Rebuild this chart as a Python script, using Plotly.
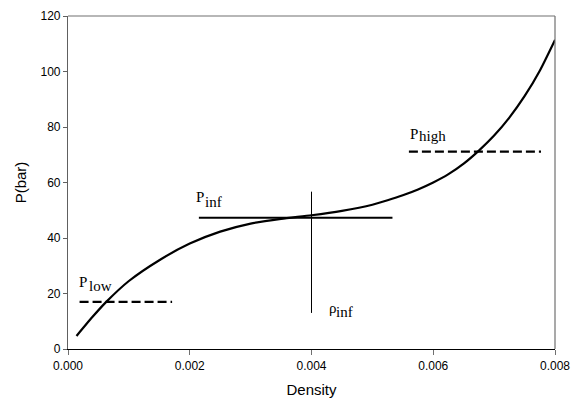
import plotly.graph_objects as go

# Curve data
density = [0.00014, 0.0004, 0.00062, 0.001, 0.0015, 0.002, 0.0025, 0.003, 0.0035,
           0.004, 0.0045, 0.005, 0.00525, 0.0055, 0.00575, 0.006, 0.00625, 0.0065,
           0.00675, 0.007, 0.00725, 0.0075, 0.00775, 0.008]
pressure = [4.7, 11.5, 16.8, 24.5, 32.0, 38.0, 42.3, 45.2, 46.9,
            48.2, 49.8, 52.0, 53.6, 55.4, 57.5, 60.0, 63.0, 66.8,
            71.5, 76.9, 83.4, 91.1, 100.3, 111.4]

# Reference levels
p_low_x = [0.00019, 0.00171]
p_low_y = [17.0, 17.0]
p_inf_x = [0.00215, 0.00533]
p_inf_y = [47.3, 47.3]
rho_inf_x = [0.004, 0.004]
rho_inf_y = [13.0, 56.7]
p_high_x = [0.0056, 0.00777]
p_high_y = [71.1, 71.1]

x_ticks = [0.0, 0.002, 0.004, 0.006, 0.008]
x_tick_labels = ["0.000", "0.002", "0.004", "0.006", "0.008"]
y_ticks = [0, 20, 40, 60, 80, 100, 120]

fig = go.Figure()
fig.add_trace(go.Scatter(x=density, y=pressure, mode="lines",
                         line=dict(color="black", width=2.2, shape="spline", smoothing=0.6),
                         showlegend=False, hoverinfo="skip"))
fig.add_trace(go.Scatter(x=p_low_x, y=p_low_y, mode="lines",
                         line=dict(color="black", width=2.2, dash="9px,4px"),
                         showlegend=False, hoverinfo="skip"))
fig.add_trace(go.Scatter(x=p_inf_x, y=p_inf_y, mode="lines",
                         line=dict(color="black", width=2.2),
                         showlegend=False, hoverinfo="skip"))
fig.add_trace(go.Scatter(x=rho_inf_x, y=rho_inf_y, mode="lines",
                         line=dict(color="black", width=1),
                         showlegend=False, hoverinfo="skip"))
fig.add_trace(go.Scatter(x=p_high_x, y=p_high_y, mode="lines",
                         line=dict(color="black", width=2.2, dash="9px,4px"),
                         showlegend=False, hoverinfo="skip"))

serif = "Liberation Serif, Times New Roman, serif"


def lab(text, x, y, size):
    fig.add_annotation(x=x, y=y, xref="x", yref="y", showarrow=False,
                       xanchor="left", yanchor="middle", text=text,
                       font=dict(family=serif, size=size, color="black"))

# P_low
lab("P", 0.000152, 24.3, 15)
lab("low", 0.000307, 22.6, 15)
# P_inf
lab("P", 0.002067, 54.7, 15)
lab("inf", 0.002217, 53.0, 15)
# P_high
lab("P", 0.005587, 77.5, 15)
lab("high", 0.005737, 76.6, 15)
# rho_inf
lab("ρ", 0.004247, 14.6, 15)
lab("inf", 0.004377, 13.2, 15)

# top/right frame
fig.add_shape(type="line", xref="paper", yref="paper", x0=0, x1=1, y0=1, y1=1,
              line=dict(color="#707070", width=1.2))
fig.add_shape(type="line", xref="paper", yref="paper", x0=1, x1=1, y0=0, y1=1,
              line=dict(color="#707070", width=1.2))

fig.update_layout(
    width=575, height=407,
    margin=dict(l=67.5, r=20, t=15.7, b=58),
    paper_bgcolor="white", plot_bgcolor="white",
    font=dict(family="Liberation Sans, Arial, sans-serif", color="black"),
    xaxis=dict(range=[0, 0.008], tickvals=x_ticks, ticktext=x_tick_labels, automargin=False,
               showgrid=False, zeroline=False, showline=True, linecolor="black", linewidth=1.2,
               ticks="outside", ticklen=5, tickcolor="#707070", tickwidth=1,
               tickfont=dict(size=12, family="Liberation Sans, Arial, sans-serif"),
               title=dict(text="Density", font=dict(size=15), standoff=12)),
    yaxis=dict(range=[0, 120], tickvals=y_ticks, automargin=False,
               showgrid=False, zeroline=False, showline=True, linecolor="#606060", linewidth=1.2,
               ticks="outside", ticklen=4, tickcolor="#606060", tickwidth=1,
               tickfont=dict(size=12, family="Liberation Sans, Arial, sans-serif"),
               title=dict(text="P(bar)", font=dict(size=15), standoff=10)),
)

fig.write_html("out.html")
